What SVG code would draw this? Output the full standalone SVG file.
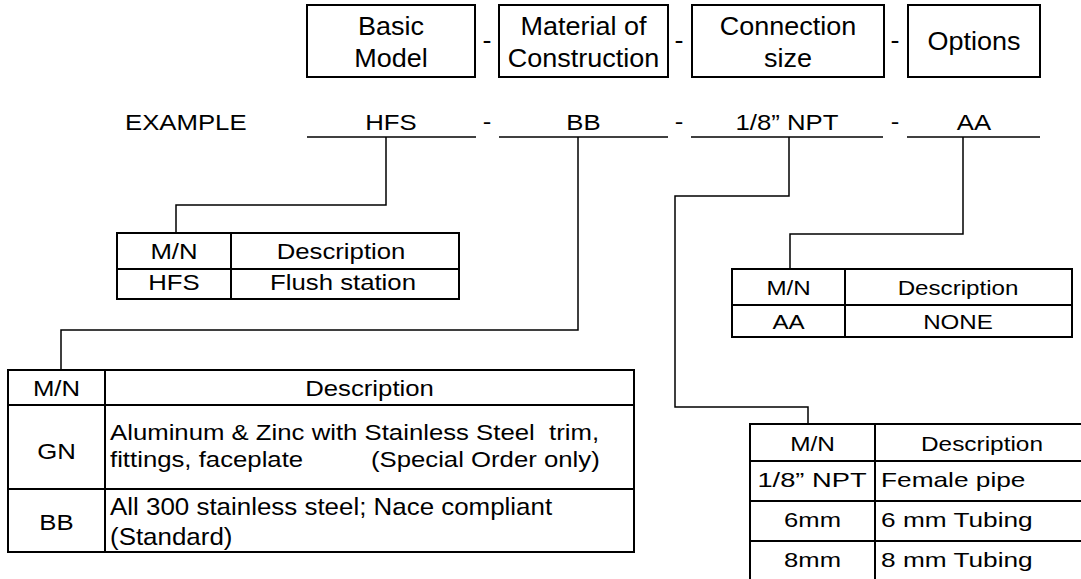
<svg xmlns="http://www.w3.org/2000/svg" width="1081" height="579" viewBox="0 0 1081 579">
<style>
text { font-family: "Liberation Sans", Arial, sans-serif; fill: #000; }
.b { font-size: 25px; }
.m { font-size: 22px; }
.s { font-size: 21px; }
.h { font-size: 20px; }
.n { font-size: 24px; }
.c { text-anchor: middle; }
.box { fill: #fff; stroke: #000; stroke-width: 2; }
.tbl { fill: #fff; stroke: #000; stroke-width: 2; }
.in { stroke: #000; stroke-width: 2; fill: none; }
.ul { stroke: #000; stroke-width: 1.5; fill: none; }
.con { stroke: #000; stroke-width: 1.5; fill: none; }
</style>
<rect width="1081" height="579" fill="#fff"/>

<g id="header-basic-model">
<rect class="box" x="307" y="5" width="168" height="72"/>
<text class="b c" transform="translate(391,35) scale(1.08,1)">Basic</text>
<text class="b c" transform="translate(391,67) scale(1.08,1)">Model</text>
</g>
<g id="header-material">
<rect class="box" x="499" y="5" width="169" height="72"/>
<text class="b c" transform="translate(583.5,35) scale(1.08,1)">Material of</text>
<text class="b c" transform="translate(583.5,67) scale(1.08,1)">Construction</text>
</g>
<g id="header-connection">
<rect class="box" x="692" y="5" width="192" height="72"/>
<text class="b c" transform="translate(788,35) scale(1.08,1)">Connection</text>
<text class="b c" transform="translate(788,67) scale(1.08,1)">size</text>
</g>
<g id="header-options">
<rect class="box" x="908" y="5" width="132" height="72"/>
<text class="b c" transform="translate(974,50) scale(1.08,1)">Options</text>
</g>
<g id="header-dashes">
<text class="b c" transform="translate(487,49) scale(1.08,1)">-</text>
<text class="b c" transform="translate(679,49) scale(1.08,1)">-</text>
<text class="b c" transform="translate(895,49) scale(1.08,1)">-</text>
</g>

<g id="example">
<text class="m" transform="translate(125,130) scale(1.17,1)">EXAMPLE</text>
<text class="m c" transform="translate(391,130) scale(1.17,1)">HFS</text>
<text class="m c" transform="translate(487,129) scale(1.17,1)">-</text>
<text class="m c" transform="translate(583.5,130) scale(1.17,1)">BB</text>
<text class="m c" transform="translate(679,129) scale(1.17,1)">-</text>
<text class="m c" transform="translate(787,130) scale(1.17,1)">1/8” NPT</text>
<text class="m c" transform="translate(895,129) scale(1.17,1)">-</text>
<text class="m c" transform="translate(974,130) scale(1.17,1)">AA</text>
<line class="ul" x1="307" y1="137" x2="476" y2="137"/>
<line class="ul" x1="499" y1="137" x2="668" y2="137"/>
<line class="ul" x1="691" y1="137" x2="883" y2="137"/>
<line class="ul" x1="907" y1="137" x2="1040" y2="137"/>
</g>

<g id="connectors">
<path class="con" d="M386,137 V205 H176 V233"/>
<path class="con" d="M578,137 V330 H61 V370"/>
<path class="con" d="M789,137 V196 H675 V407 H808 V424"/>
<path class="con" d="M963,137 V234 H790 V269"/>
</g>

<g id="table-basic-model">
<rect class="tbl" x="117" y="233" width="342" height="66"/>
<line class="in" x1="117" y1="269" x2="459" y2="269"/>
<line class="in" x1="231" y1="233" x2="231" y2="299"/>
<text class="m c" transform="translate(174,259) scale(1.17,1)">M/N</text>
<text class="m c" transform="translate(341,259) scale(1.17,1)">Description</text>
<text class="m c" transform="translate(174,290) scale(1.17,1)">HFS</text>
<text class="m c" transform="translate(343,290) scale(1.17,1)">Flush station</text>
</g>

<g id="table-options">
<rect class="tbl" x="732" y="269" width="340" height="68"/>
<line class="in" x1="732" y1="305" x2="1072" y2="305"/>
<line class="in" x1="845" y1="269" x2="845" y2="337"/>
<text class="s c" transform="translate(788.5,295) scale(1.15,1)">M/N</text>
<text class="s c" transform="translate(958,295) scale(1.15,1)">Description</text>
<text class="s c" transform="translate(788.5,329) scale(1.15,1)">AA</text>
<text class="s c" transform="translate(958,329) scale(1.15,1)">NONE</text>
</g>

<g id="table-material">
<rect class="tbl" x="8" y="370" width="626" height="182"/>
<line class="in" x1="8" y1="405" x2="634" y2="405"/>
<line class="in" x1="8" y1="489" x2="634" y2="489"/>
<line class="in" x1="105" y1="370" x2="105" y2="552"/>
<text class="m c" transform="translate(56.5,396) scale(1.17,1)">M/N</text>
<text class="m c" transform="translate(369.5,396) scale(1.17,1)">Description</text>
<text class="m c" transform="translate(56.5,459) scale(1.17,1)">GN</text>
<text class="m" xml:space="preserve" transform="translate(110,440) scale(1.17,1)">Aluminum &amp; Zinc with Stainless Steel  trim,</text>
<text class="m" transform="translate(110,467) scale(1.17,1)">fittings, faceplate<tspan x="223">(Special Order only)</tspan></text>
<text class="m c" transform="translate(56.5,530) scale(1.17,1)">BB</text>
<text class="n" transform="translate(110,515) scale(1.08,1)">All 300 stainless steel; Nace compliant</text>
<text class="n" transform="translate(110,545) scale(1.08,1)">(Standard)</text>
</g>

<g id="table-connection">
<rect class="tbl" x="750" y="424" width="334" height="158"/>
<line class="in" x1="750" y1="461" x2="1084" y2="461"/>
<line class="in" x1="750" y1="501" x2="1084" y2="501"/>
<line class="in" x1="750" y1="541" x2="1084" y2="541"/>
<line class="in" x1="875" y1="424" x2="875" y2="582"/>
<text class="h c" transform="translate(812.5,451) scale(1.22,1)">M/N</text>
<text class="h c" transform="translate(982,451) scale(1.22,1)">Description</text>
<text class="s c" transform="translate(812,487) scale(1.3,1)">1/8” NPT</text>
<text class="s" transform="translate(881,487) scale(1.25,1)">Female pipe</text>
<text class="s c" transform="translate(812.5,527) scale(1.22,1)">6mm</text>
<text class="s" transform="translate(881,527) scale(1.25,1)">6 mm Tubing</text>
<text class="s c" transform="translate(812.5,567) scale(1.22,1)">8mm</text>
<text class="s" transform="translate(881,567) scale(1.25,1)">8 mm Tubing</text>
</g>
</svg>
